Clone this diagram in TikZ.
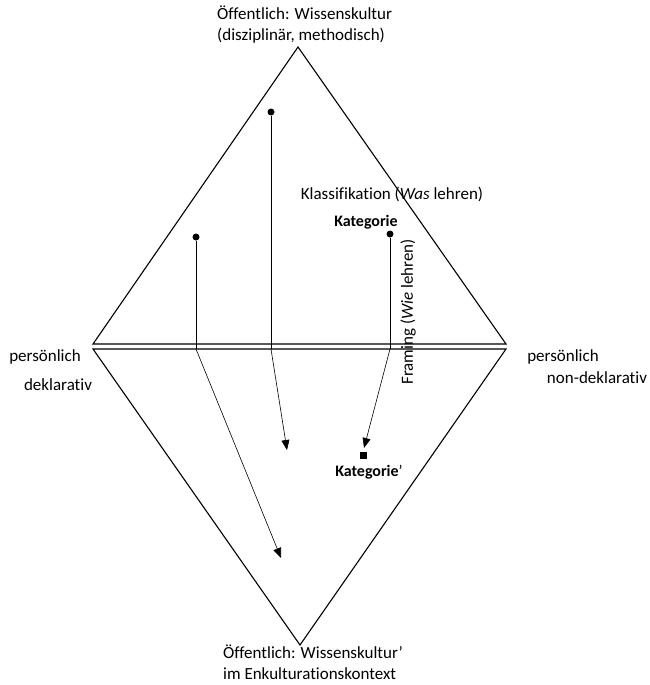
\documentclass[tikz,border=0pt]{standalone}
\usepackage{fontspec}
\setmainfont{Carlito}[Ligatures=NoCommon]
\usetikzlibrary{arrows.meta,positioning,calc}
\tikzset{
  edge/.style={draw=black,line width=1.1pt,line join=miter},
  stem/.style={draw=black,line width=.8pt},
  flow/.style={-{Triangle[length=10pt,width=8pt]},draw=black,line width=.6pt},
  dot/.style={circle,fill=black,inner sep=0pt,minimum size=7pt},
  sq/.style={rectangle,fill=black,inner sep=0pt,minimum size=7pt},
  lbl/.style={inner sep=0pt,font=\fontsize{17}{21}\selectfont},
  cat/.style={inner sep=0pt,font=\fontsize{16}{19}\selectfont\bfseries}
}
\begin{document}
\begin{tikzpicture}[x=1pt,y=-1pt]
  \useasboundingbox (0,0) rectangle (650,685);
  % corners of the two triangles
  \coordinate (top) at (298,47);
  \coordinate (ul) at (93,344);
  \coordinate (ur) at (506,344);
  \coordinate (ll) at (93,349);
  \coordinate (lr) at (506,349);
  \coordinate (bot) at (300,645);
  \draw[edge] (ul) -- (top) -- (ur) -- cycle;
  \draw[edge] (ll) -- (bot) -- (lr) -- cycle;
  % labels
  \node[lbl,align=left,anchor=north west] (pub) at (217,6) {Öffentlich: Wissenskultur\\(disziplinär, methodisch)};
  \node[lbl,align=left,anchor=north west] (pubk) at (223,645) {Öffentlich: Wissenskultur’\\im Enkulturationskontext};
  \node[lbl] (pl) at (45,357) {persönlich};
  \node[lbl] (dl) at (58,385) {deklarativ};
  \node[lbl] (pr) at (563,357) {persönlich};
  \node[lbl] (nr) at (597,378) {non-deklarativ};
  \node[lbl] (kl) at (392,194) {Klassifikation (\textit{Was} lehren)};
  \node[lbl,rotate=90] (fr) at (408,312) {Framing (\textit{Wie} lehren)};
  % Kategorie
  \node[dot] (d3) at (390,234) {};
  \node[cat] (k1) at (366,222) {Kategorie};
  \node[sq] (k2) at (363,455) {};
  \node[cat,anchor=north] (k2l) at (369,465) {Kategorie\mdseries’};
  \coordinate (b3) at (390,349);
  \coordinate (a3) at (364,448);
  \draw[stem] (d3) -- (b3);
  \draw[flow] (b3) -- (a3);
  % further points
  \node[dot] (d1) at (271,112) {};
  \coordinate (b1) at (271,349);
  \coordinate (a1) at (287,450);
  \draw[stem] (d1) -- (b1);
  \draw[flow] (b1) -- (a1);
  \node[dot] (d2) at (196,237) {};
  \coordinate (b2) at (196,349);
  \coordinate (a2) at (281,558);
  \draw[stem] (d2) -- (b2);
  \draw[flow] (b2) -- (a2);
\end{tikzpicture}
\end{document}
